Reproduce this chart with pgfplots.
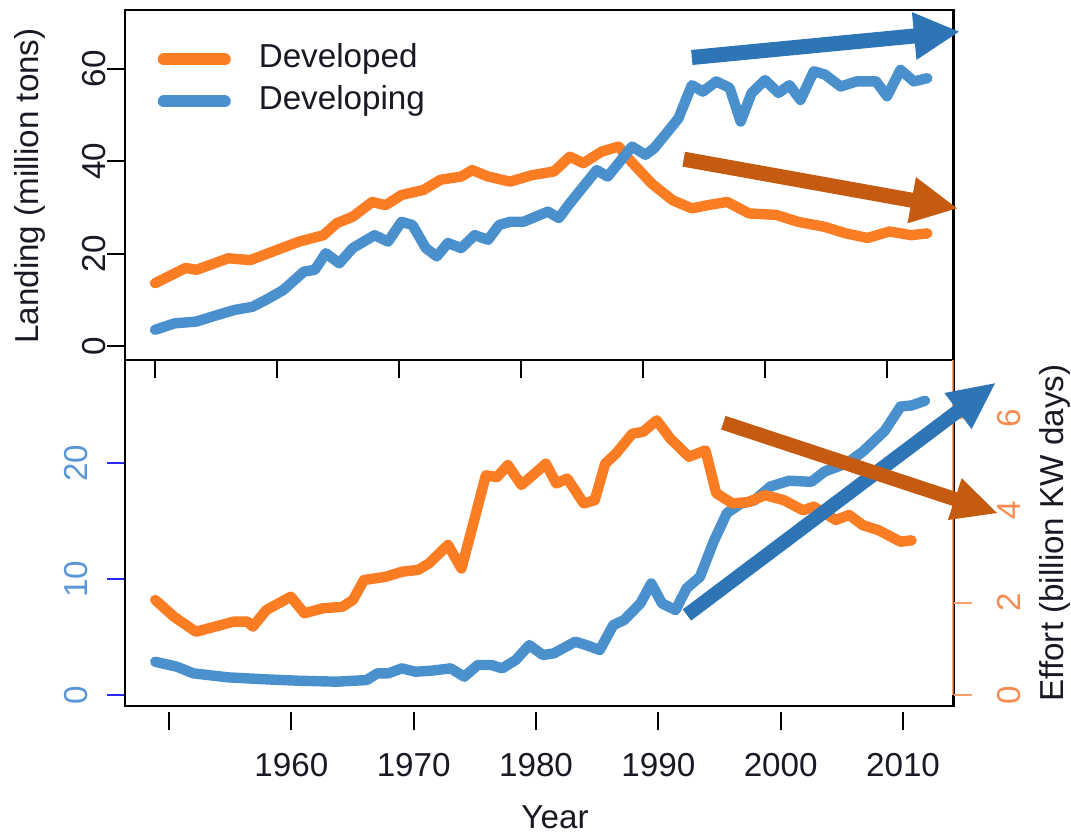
\documentclass[border=0pt]{standalone}
\usepackage{fontspec}
\setmainfont{Liberation Sans}
\usepackage{pgfplots}
\pgfplotsset{compat=1.18}
\definecolor{lorange}{RGB}{250,125,36}
\definecolor{lblue}{RGB}{74,144,205}
\definecolor{arblue}{RGB}{46,117,182}
\definecolor{arorange}{RGB}{197,90,17}
\definecolor{tickblue}{RGB}{40,40,255}
\definecolor{labblue}{RGB}{90,150,215}
\definecolor{laborange}{RGB}{248,140,80}
\definecolor{axorange}{RGB}{250,160,110}
\definecolor{txt}{RGB}{25,25,35}
\pgfplotsset{
  myax/.style={scale only axis, anchor=south west, width=207.125pt,
    font=\fontsize{8.3}{10}\selectfont, /pgf/number format/assume math mode=true,
    tick align=outside, major tick length=4.5pt,
    tick style={color=black, line width=0.5pt}, axis line style={line width=0.6pt},
    every tick label/.append style={text=txt}},
  dline/.style={line width=2.6pt, line join=round, line cap=round},
}
\begin{document}
\begin{tikzpicture}
\path[use as bounding box] (0,0) rectangle (267.75pt,208.75pt);
% ---------------- top panel
\begin{axis}[myax, at={(31.25pt,118.75pt)}, height=87.5pt,
  xmin=1947.54, xmax=2015.45, ymin=-3.03, ymax=72.77,
  xtick={1950,1960,...,2010}, xticklabels={,,}, xtick pos=left,
  ytick={0,20,40,60}, ytick pos=left,
  yticklabel style={rotate=90, anchor=south, inner sep=0pt}, yticklabel shift=0pt,
  ylabel={Landing (million tons)},
  every axis y label/.style={at={(axis description cs:-0.1147,0.497)}, rotate=90, anchor=center, text=txt},
  legend style={at={(axis description cs:0.0386,0.9066)}, anchor=north west, draw=none, fill=none,
    inner sep=0pt, row sep=2.5pt, nodes={inner sep=0pt, text height=6pt, text depth=2pt, text=txt},
    /tikz/every odd column/.append style={column sep=7pt}},
  legend cell align=left,
  legend image code/.code={\draw[#1, line width=3pt, line cap=round] (1.5pt,0pt) -- (16.75pt,0pt);},
]
\addplot[lorange, dline] coordinates {
(1950.0,13.6)(1952.5,16.9)(1953.4,16.5)(1956.0,19.0)(1957.8,18.6)(1960.0,20.8)(1961.8,22.6)
(1963.8,24.0)(1964.9,26.6)(1966.2,28.0)(1967.8,31.2)(1968.9,30.5)(1970.2,32.7)(1972.0,33.8)
(1973.4,36.0)(1975.1,36.7)(1976.0,38.1)(1977.3,36.7)(1979.1,35.6)(1980.9,37.0)(1982.7,37.8)
(1984.0,41.0)(1985.1,39.6)(1986.6,42.1)(1988.0,43.2)(1988.9,40.3)(1990.7,35.2)(1992.4,31.6)
(1994.0,29.8)(1995.3,30.5)(1996.9,31.2)(1998.7,28.7)(2000.9,28.4)(2002.7,26.9)(2004.9,25.8)
(2006.6,24.4)(2008.4,23.4)(2010.2,24.8)(2012.0,24.0)(2013.3,24.4)};
\addlegendentry{Developed}
\addplot[lblue, dline] coordinates {
(1950.0,3.5)(1951.6,4.9)(1953.4,5.3)(1955.1,6.7)(1956.5,7.8)(1958.0,8.5)(1959.1,10.0)
(1960.5,12.1)(1962.2,16.1)(1963.1,16.5)(1964.0,20.1)(1965.1,17.9)(1966.2,21.2)(1968.0,24.0)
(1969.1,22.6)(1970.2,26.9)(1971.1,26.2)(1972.2,21.2)(1973.1,19.4)(1974.0,22.3)(1975.1,21.2)
(1976.2,24.0)(1977.3,23.0)(1978.2,26.2)(1979.1,26.9)(1980.2,26.9)(1982.2,29.1)(1983.1,27.7)
(1984.0,30.9)(1985.1,34.5)(1986.2,38.1)(1987.1,36.7)(1989.1,43.2)(1990.2,41.4)(1990.9,42.8)
(1991.8,45.7)(1992.9,49.3)(1994.0,56.5)(1994.9,55.1)(1996.0,57.3)(1997.1,55.9)(1998.0,48.6)
(1998.9,54.8)(2000.0,57.6)(2001.1,54.8)(2002.0,56.5)(2002.9,53.3)(2004.0,59.5)(2004.9,58.8)
(2006.2,56.2)(2007.5,57.3)(2009.1,57.3)(2010.0,54.1)(2011.1,59.8)(2012.2,57.3)(2013.3,58.0)};
\addlegendentry{Developing}
\end{axis}
% ---------------- bottom panel, left axis (developing)
\begin{axis}[myax, at={(31.25pt,32.25pt)}, height=86.5pt,
  xmin=1946.40, xmax=2014.13, ymin=-0.95, ymax=28.92,
  xtick={1950,1960,...,2010}, xticklabels={{},1960,1970,1980,1990,2000,2010}, xtick pos=left,
  xtick style={yshift=-1.5pt},
  xticklabel style={anchor=north, inner sep=0pt}, xticklabel shift=7.25pt,
  ytick={0,10,20}, ytick pos=left, ytick style={color=tickblue},
  yticklabel style={rotate=90, anchor=south, inner sep=0pt, text=labblue}, yticklabel shift=4.5pt,
  xlabel={Year},
  every axis x label/.style={at={(axis description cs:0.519,-0.3208)}, anchor=center, text=txt},
]
\addplot[lblue, dline] coordinates {
(1948.87,2.87)(1950.65,2.44)(1951.98,1.87)(1954.86,1.52)(1957.95,1.35)(1960.62,1.23)
(1963.72,1.15)(1966.15,1.29)(1967.04,1.87)(1967.93,1.87)(1969.03,2.30)(1970.14,2.01)
(1971.47,2.10)(1973.02,2.30)(1974.13,1.58)(1975.24,2.59)(1976.35,2.59)(1977.23,2.30)
(1978.34,3.02)(1979.45,4.31)(1980.56,3.45)(1981.44,3.59)(1983.21,4.60)(1984.1,4.31)
(1985.21,3.88)(1986.31,6.03)(1987.2,6.47)(1988.53,7.91)(1989.42,9.63)(1990.3,7.91)
(1991.41,7.33)(1992.3,9.20)(1993.4,10.2)(1994.5,13.2)(1995.6,15.7)(1996.7,16.5)
(1997.84,16.8)(1999.16,18.0)(2000.7,18.5)(2002.5,18.4)(2003.6,19.3)(2005.4,20.0)
(2006.7,21.0)(2008.5,22.8)(2009.8,24.9)(2010.7,25.0)(2011.8,25.4)};
\end{axis}
% ---------------- bottom panel, right axis (developed)
\begin{axis}[myax, at={(31.25pt,32.25pt)}, height=86.5pt,
  xmin=1946.40, xmax=2014.13, ymin=-0.238, ymax=7.256,
  axis x line=none, axis y line*=right, y axis line style={draw=none},
  ytick={0,2,4,6}, ytick style={color=axorange},
  yticklabel style={rotate=90, anchor=north, inner sep=0pt, text=laborange}, yticklabel shift=6.25pt,
  ylabel={Effort (billion KW days)},
  every axis y label/.style={at={(axis description cs:1.1225,0.5)}, rotate=90, anchor=center, text=txt},
]
\draw[axorange, line width=0.6pt] (axis cs:2014.13,0) -- (axis cs:2014.13,7.256);
\addplot[lorange, dline] coordinates {
(1948.87,2.06)(1950.43,1.69)(1952.2,1.37)(1953.75,1.48)(1955.3,1.59)(1956.4,1.59)(1956.85,1.48)
(1957.95,1.84)(1959.95,2.13)(1961.06,1.77)(1962.6,1.88)(1964.16,1.91)(1965.04,2.06)
(1965.93,2.49)(1967.7,2.56)(1969.03,2.67)(1970.36,2.71)(1971.25,2.85)(1972.8,3.25)
(1973.9,2.74)(1974.8,3.64)(1975.9,4.76)(1976.8,4.72)(1977.7,4.98)(1978.8,4.55)(1979.9,4.80)
(1980.8,5.01)(1981.66,4.58)(1982.55,4.69)(1983.9,4.15)(1984.8,4.22)(1985.65,5.01)
(1986.54,5.23)(1987.87,5.66)(1988.75,5.70)(1989.86,5.95)(1990.96,5.56)(1992.5,5.16)
(1993.85,5.30)(1994.73,4.37)(1996.06,4.15)(1997.39,4.18)(1998.72,4.33)(2000.27,4.22)
(2001.83,4.00)(2002.7,4.08)(2004.5,3.79)(2005.6,3.90)(2006.7,3.68)(2008.0,3.57)
(2009.8,3.32)(2010.7,3.35)};
\end{axis}
% ---------------- arrows (annotations, pixel coordinates)
\begin{scope}[shift={(0pt,208.75pt)}, x=0.25pt, y=-0.25pt]
\fill[arblue] (692.5,65.0) -- (691.1,50.0) -- (913.5,28.5) -- (911.9,12.1) -- (959,31.7) -- (916.5,59.9) -- (914.9,43.5) -- cycle;
\fill[arorange] (682.4,166.6) -- (685.0,151.8) -- (913.0,192.8) -- (915.9,177.1) -- (957,208.3) -- (907.5,223.3) -- (910.4,207.6) -- cycle;
\fill[arblue] (691.1,620.6) -- (682.7,609.4) -- (953.8,405.5) -- (944.4,393.0) -- (995,383.3) -- (971.6,429.2) -- (962.2,416.7) -- cycle;
\fill[arorange] (721.0,429.5) -- (725.6,415.9) -- (957.1,492.3) -- (961.7,478.2) -- (997,513) -- (947.9,520.0) -- (952.5,505.9) -- cycle;
\end{scope}
\end{tikzpicture}
\end{document}
